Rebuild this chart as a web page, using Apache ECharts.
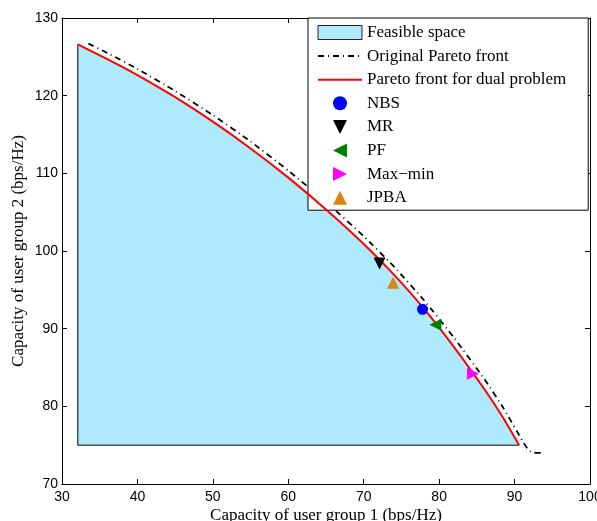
<!DOCTYPE html>
<html>
<head>
<meta charset="utf-8">
<script src="https://cdn.jsdelivr.net/npm/echarts@6/dist/echarts.min.js"></script>
<style>
  html, body { margin: 0; padding: 0; background: #fff; }
  #chart { width: 597px; height: 521px; }
</style>
</head>
<body>
<div id="chart"></div>
<script>
// pareto front for the dual problem (red), also upper edge of feasible space
var redX = [32.1, 36, 40, 45, 50, 55, 60, 65, 70, 74, 78, 82, 86, 88.5, 90.6];
var redY = [126.6, 124.7, 122.65, 119.8, 116.65, 113.2, 109.45, 105.35, 100.9, 96.95, 92.55, 87.6, 82.2, 78.5, 75.0];
// original pareto front (dash-dot)
var origX = [33.5, 36, 40, 45, 50, 55, 60, 65, 70, 74, 78, 82, 86, 88.5, 91.2, 91.9, 92.6, 93.5];
var origY = [126.7, 125.5, 123.45, 120.6, 117.5, 114.1, 110.35, 106.3, 101.9, 98.0, 93.65, 88.8, 83.5, 79.8, 75.3, 74.3, 74.0, 74.0];
var feasibleBottom = 75;
// operating points
var schemes = ['NBS', 'MR', 'PF', 'Max\u2212min', 'JPBA'];
var schemeX = [77.8, 72.1, 79.5, 84.5, 73.9];
var schemeY = [92.5, 98.4, 90.5, 84.2, 95.9];
var xTicks = [30, 100, 10];
var yTicks = [70, 130, 10];

var serif = 'Liberation Serif';
var sans = 'Liberation Sans';
var fillColor = '#aeeafb';

function pairs(xs, ys) {
  var out = [];
  for (var i = 0; i < xs.length; i++) out.push([xs[i], ys[i]]);
  return out;
}

// triangles as paths so the legend keeps their shape
var triUp = 'path://M0,10L5,0L10,10Z';
var triDown = 'path://M0,0L10,0L5,10Z';
var triLeft = 'path://M10,0L10,10L0,5Z';
var triRight = 'path://M0,0L10,5L0,10Z';

var markerStyle = [
  { symbol: 'circle', color: '#0000ff', size: 11 },
  { symbol: triDown, color: '#000000', size: 12 },
  { symbol: triLeft, color: '#008000', size: 12 },
  { symbol: triRight, color: '#ff00ff', size: 12 },
  { symbol: triUp, color: '#e08410', size: 12 }
];

var series = [
  {
    name: 'Feasible space',
    type: 'line',
    data: pairs(redX, redY),
    showSymbol: false,
    symbol: 'none',
    smooth: 0.2,
    lineStyle: { width: 0 },
    areaStyle: { color: fillColor, opacity: 1, origin: feasibleBottom },
    z: 1
  },
  {
    name: 'edge',
    type: 'line',
    data: [[redX[0], redY[0]], [redX[0], feasibleBottom], [redX[redX.length - 1], feasibleBottom]],
    symbol: 'none',
    lineStyle: { color: '#000', width: 1 },
    z: 2
  },
  {
    name: 'Original Pareto front',
    type: 'line',
    data: pairs(origX, origY),
    symbol: 'none',
    smooth: 0.15,
    lineStyle: { color: '#000', width: 1.8, type: [6, 4, 1, 4] },
    z: 3
  },
  {
    name: 'Pareto front for dual problem',
    type: 'line',
    data: pairs(redX, redY),
    symbol: 'none',
    smooth: 0.2,
    lineStyle: { color: '#ff0000', width: 2 },
    z: 4
  }
];

for (var i = 0; i < schemes.length; i++) {
  var m = markerStyle[i];
  series.push({
    name: schemes[i],
    type: 'scatter',
    data: [[schemeX[i], schemeY[i]]],
    symbol: m.symbol,
    symbolKeepAspect: true,
    symbolSize: m.size,
    itemStyle: { color: m.color, opacity: 1 },
    z: 5
  });
}

var hideSymbol = { opacity: 0 };
var legendData = [
  { name: 'Feasible space', icon: 'rect', itemStyle: { color: fillColor, borderColor: '#222', borderWidth: 1 } },
  { name: 'Original Pareto front', itemStyle: hideSymbol },
  { name: 'Pareto front for dual problem', itemStyle: hideSymbol }
].concat(schemes.map(function (s) { return { name: s }; }));

var axisCommon = {
  type: 'value',
  axisLine: { show: true, onZero: false, lineStyle: { color: '#000', width: 1 } },
  axisTick: { show: true, inside: true, length: 5, lineStyle: { color: '#000' } },
  splitLine: { show: false }
};

var option = {
  animation: false,
  backgroundColor: '#fff',
  grid: { left: 62, right: 7, top: 18, bottom: 37, containLabel: false, outerBoundsMode: 'none' },
  legend: {
    orient: 'vertical',
    left: 308,
    top: 18,
    data: legendData,
    selectedMode: false,
    itemWidth: 44,
    itemHeight: 14,
    itemGap: 6.6,
    padding: [6, 22, 4, 9],
    backgroundColor: '#fff',
    borderColor: '#000',
    borderWidth: 1,
    borderRadius: 0,
    textStyle: { fontFamily: serif, fontSize: 17, color: '#000' }
  },
  xAxis: [
    Object.assign({}, axisCommon, {
      position: 'bottom',
      min: xTicks[0], max: xTicks[1], interval: xTicks[2],
      axisLabel: { fontFamily: sans, fontSize: 14, color: '#000', margin: 6 },
      name: 'Capacity of user group 1 (bps/Hz)',
      nameLocation: 'middle',
      nameGap: 23,
      nameMoveOverlap: false,
      nameTextStyle: { fontFamily: serif, fontSize: 17, color: '#000' }
    }),
    Object.assign({}, axisCommon, {
      position: 'top',
      min: xTicks[0], max: xTicks[1], interval: xTicks[2],
      axisLabel: { show: false }
    })
  ],
  yAxis: [
    Object.assign({}, axisCommon, {
      position: 'left',
      min: yTicks[0], max: yTicks[1], interval: yTicks[2],
      axisLabel: { fontFamily: sans, fontSize: 14, color: '#000', margin: 4 },
      name: 'Capacity of user group 2 (bps/Hz)',
      nameLocation: 'middle',
      nameGap: 35,
      nameMoveOverlap: false,
      nameTextStyle: { fontFamily: serif, fontSize: 17, color: '#000' }
    }),
    Object.assign({}, axisCommon, {
      position: 'right',
      min: yTicks[0], max: yTicks[1], interval: yTicks[2],
      axisLabel: { show: false }
    })
  ],
  series: series
};

var chart = echarts.init(document.getElementById('chart'), null, { renderer: 'canvas' });
chart.setOption(option);
</script>
</body>
</html>
